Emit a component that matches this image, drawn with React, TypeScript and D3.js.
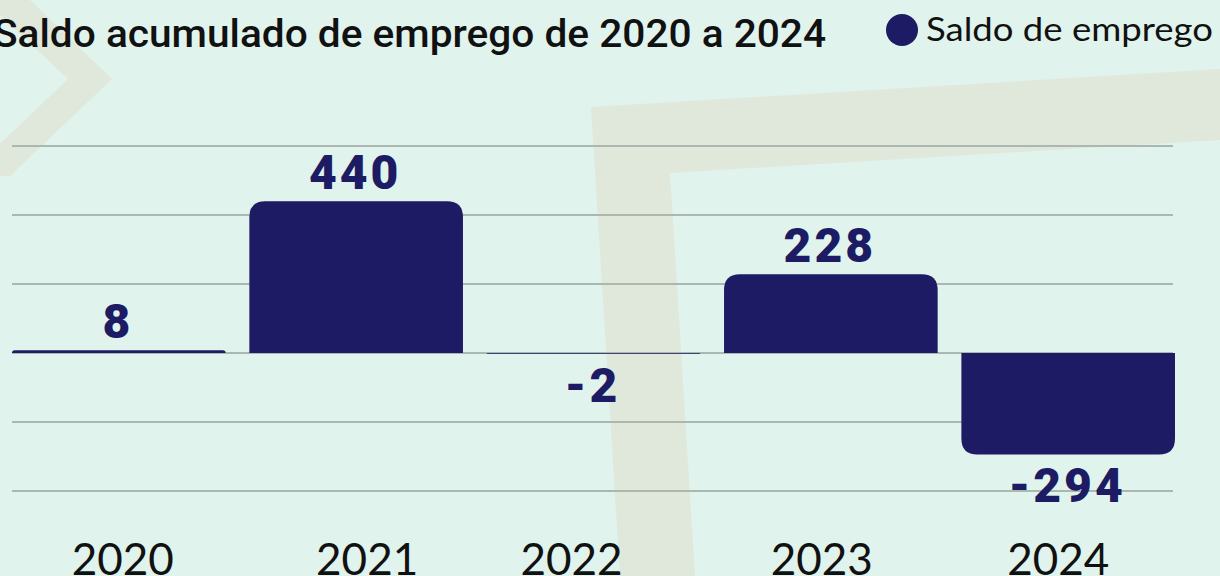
import React from "react";
import * as d3 from "d3";

const years = ["2020", "2021", "2022", "2023", "2024"];
const saldo = [8, 440, -2, 228, -294];
const gridTicks = [-400, -200, 0, 200, 400, 600];
const labelDx = [4, 11, -22, -9, -10];

const W = 1220;
const H = 576;
const BG = "#e0f3ed";
const BEIGE = "#e0e8dc";
const NAVY = "#1c1b64";
const GRID = "#abb8b1";

function barPath(x: number, w: number, y0: number, y1: number, rMax: number) {
  const h = Math.abs(y1 - y0);
  const r = Math.min(rMax, h, w / 2);
  const p = d3.path();
  if (y1 <= y0) {
    p.moveTo(x, y0);
    p.lineTo(x, y1 + r);
    p.quadraticCurveTo(x, y1, x + r, y1);
    p.lineTo(x + w - r, y1);
    p.quadraticCurveTo(x + w, y1, x + w, y1 + r);
    p.lineTo(x + w, y0);
  } else {
    p.moveTo(x, y0);
    p.lineTo(x, y1 - r);
    p.quadraticCurveTo(x, y1, x + r, y1);
    p.lineTo(x + w - r, y1);
    p.quadraticCurveTo(x + w, y1, x + w, y1 - r);
    p.lineTo(x + w, y0);
  }
  p.closePath();
  return p.toString();
}

export default function App() {
  const x = d3.scaleBand<string>().domain(years).range([12, 1175]).paddingInner(0.1).paddingOuter(0);
  const y = d3.scaleLinear().domain([-400, 600]).range([491, 146]);
  const y0 = y(0);

  const chevron = [[-16, 0], [30, 0], [112, 79], [10, 176], [-34, 176], [68, 79]];
  const lShape = [[591, 107], [1220, 69], [1220, 140], [670, 173], [695, 576], [620, 576]];
  const poly = (pts: number[][]) => pts.map((p) => p.join(",")).join(" ");

  return (
    <svg
      width={W}
      height={H}
      style={{ position: "absolute", left: 0, top: 0, display: "block" }}
    >
      <rect x={0} y={0} width={W} height={H} fill={BG} />
      <polygon points={poly(chevron)} fill={BEIGE} />
      <polygon points={poly(lShape)} fill={BEIGE} />

      <text
        x={-7}
        y={47}
        fontFamily="Roboto, Lato, sans-serif"
        fontWeight={500}
        fontSize={38}
        fill="#111"
        textLength={833}
        lengthAdjust="spacingAndGlyphs"
      >
        Saldo acumulado de emprego de 2020 a 2024
      </text>

      <circle cx={902} cy={30} r={16} fill={NAVY} />
      <text
        x={926}
        y={41}
        fontFamily="Lato, 'Open Sans', sans-serif"
        fontWeight={400}
        fontSize={32}
        fill="#111"
        textLength={287}
        lengthAdjust="spacingAndGlyphs"
      >
        Saldo de emprego
      </text>

      {gridTicks.map((t) => (
        <line key={t} x1={12} x2={1173} y1={y(t)} y2={y(t)} stroke={GRID} strokeWidth={2} />
      ))}

      {years.map((yr, i) => {
        const v = saldo[i];
        const bx = x(yr)!;
        const bw = x.bandwidth();
        const yv = y(v);
        const cx = bx + bw / 2;
        const ly = v >= 0 ? yv - 12 : yv + 48;
        return (
          <g key={yr}>
            <path d={barPath(bx, bw, y0, yv, 16)} fill={NAVY} />
            <text
              x={cx - 1}
              y={ly}
              textAnchor="middle"
              fontFamily="Roboto, 'DejaVu Sans', sans-serif"
              fontWeight={900}
              fontSize={48}
              letterSpacing={3}
              fill={NAVY}
            >
              {String(v)}
            </text>
            <text
              x={cx + labelDx[i]}
              y={575}
              textAnchor="middle"
              fontFamily="Lato, 'Open Sans', sans-serif"
              fontWeight={400}
              fontSize={44}
              fill="#111"
            >
              {yr}
            </text>
          </g>
        );
      })}
    </svg>
  );
}
